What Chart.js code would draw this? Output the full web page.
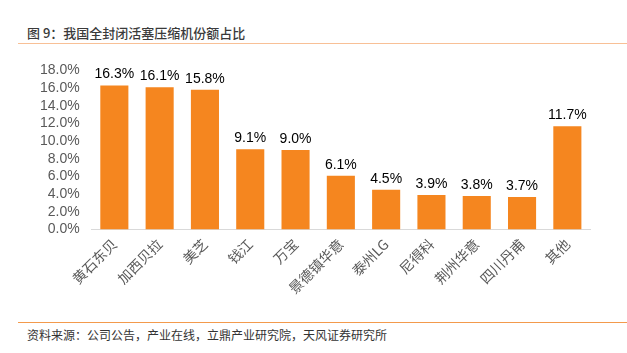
<!DOCTYPE html>
<html>
<head>
<meta charset="utf-8">
<script src="https://cdn.jsdelivr.net/npm/chart.js@4"></script>
<style>
  body { margin: 0; width: 627px; height: 353px; background: #fff; position: relative; overflow: hidden;
         font-family: "Liberation Sans", "Noto Sans CJK SC", sans-serif; }
  #title { position: absolute; left: 27px; top: 23px; font-size: 13px; color: #3a3a3a; font-weight: 500;
           font-family: "Noto Sans CJK SC", sans-serif; }
  #topline { position: absolute; left: 18px; top: 43px; width: 609px; height: 1px; background: #f8c096; }
  #wrap { position: absolute; left: 0; top: 50px; width: 627px; height: 253px; }
  #botline { position: absolute; left: 18px; top: 322px; width: 609px; height: 1px; background: #f39a4c; }
  #source { position: absolute; left: 27px; top: 326px; font-size: 12px; color: #333;
            font-family: "Noto Sans CJK SC", sans-serif; }
</style>
</head>
<body>
<div id="title">图 9：我国全封闭活塞压缩机份额占比</div>
<div id="topline"></div>
<div id="wrap"><canvas id="chart"></canvas></div>
<div id="botline"></div>
<div id="source">资料来源：公司公告，产业在线，立鼎产业研究院，天风证券研究所</div>
<script>
const categories = ["黄石东贝", "加西贝拉", "美芝", "钱江", "万宝", "景德镇华意", "泰州LG", "尼得科", "荆州华意", "四川丹甫", "其他"];
const shares = [16.3, 16.1, 15.8, 9.1, 9.0, 6.1, 4.5, 3.9, 3.8, 3.7, 11.7];
const yTicks = [0, 2, 4, 6, 8, 10, 12, 14, 16, 18];

const valueLabels = {
  id: "valueLabels",
  afterDatasetsDraw(chart) {
    const ctx = chart.ctx;
    const meta = chart.getDatasetMeta(0);
    ctx.save();
    ctx.font = "14px 'Liberation Sans', sans-serif";
    ctx.fillStyle = "#000";
    ctx.textAlign = "center";
    ctx.textBaseline = "bottom";
    meta.data.forEach((bar, i) => {
      ctx.fillText(shares[i].toFixed(1) + "%", bar.x, bar.y - 4);
    });
    ctx.restore();
  }
};

const ctx = document.getElementById("chart").getContext("2d");
new Chart(ctx, {
  type: "bar",
  data: {
    labels: categories,
    datasets: [{
      data: shares,
      backgroundColor: "#f5861f",
      categoryPercentage: 0.62,
      barPercentage: 1
    }]
  },
  options: {
    responsive: true,
    maintainAspectRatio: false,
    animation: false,
    layout: { padding: { left: 28, right: 37, top: 10, bottom: 0 } },
    plugins: { legend: { display: false }, tooltip: { enabled: false } },
    scales: {
      x: {
        grid: { display: false, drawTicks: false },
        border: { color: "#d9d9d9" },
        ticks: {
          color: "#595959",
          font: { size: 14, family: "'Noto Sans CJK SC', sans-serif" },
          minRotation: 45, maxRotation: 45,
          autoSkip: false,
          padding: 6
        }
      },
      y: {
        min: 0, max: 18,
        afterBuildTicks(axis) { axis.ticks = yTicks.map(v => ({ value: v })); },
        grid: { display: false, drawTicks: false },
        border: { display: false },
        ticks: {
          color: "#595959",
          font: { size: 14, family: "'Liberation Sans', sans-serif" },
          autoSkip: false,
          padding: 12,
          callback: v => v.toFixed(1) + "%"
        }
      }
    }
  },
  plugins: [valueLabels]
});
</script>
</body>
</html>
